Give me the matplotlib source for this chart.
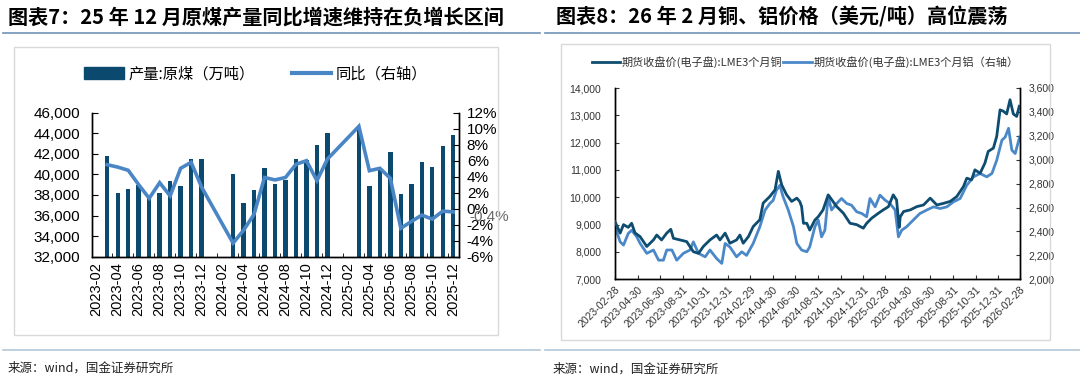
import numpy as np
import pandas as pd
import matplotlib
matplotlib.use("Agg")
import matplotlib.pyplot as plt
import matplotlib.dates as mdates
from matplotlib.lines import Line2D
from matplotlib.patches import Rectangle, Patch

plt.rcParams['font.family'] = ['Liberation Sans', 'Noto Sans CJK SC', 'DejaVu Sans']
plt.rcParams['axes.unicode_minus'] = False

# ---------------- left chart data: raw coal output ----------------
months = pd.period_range('2023-02', '2025-12', freq='M').strftime('%Y-%m').tolist()
coal_output = [None,
               41800, 38200, 38600, 39000, 37800, 38200, 39400, 38900, 41500, 41500,
               None, None,
               40000, 37200, 38500, 40600, 39100, 39500, 41500, 41400, 42900, 44000,
               None, None,
               44400, 38900, 40500, 42200, 38100, 39100, 41200, 40700, 42800, 43800]
coal_yoy = [None,
            5.5, 5.2, 4.8, 3.0, 1.3, 3.25, 1.6, 5.05, 5.8, 2.7,
            None, None,
            -4.3, -2.7, -0.7, 3.9, 3.6, 3.9, 5.55, 6.0, 3.5, 6.2,
            None, None,
            10.3, 4.75, 5.05, 3.8, -2.45, -1.6, -0.8, -1.3, -0.3, -0.4]
last_label = '-0.4%'

# ---------------- right chart data: LME copper / aluminium ----------------
cu_dates = ['2023-02-28', '2023-03-14', '2023-03-23', '2023-04-05', '2023-04-14', '2023-04-23',
            '2023-05-07', '2023-05-25', '2023-06-12', '2023-06-21', '2023-07-04', '2023-07-18',
            '2023-07-29', '2023-08-05', '2023-08-23', '2023-09-10', '2023-09-28', '2023-10-12',
            '2023-10-25', '2023-11-12', '2023-11-30', '2023-12-09', '2023-12-23', '2024-01-05',
            '2024-01-23', '2024-02-01', '2024-02-10', '2024-02-24', '2024-03-08', '2024-03-26',
            '2024-04-04', '2024-04-22', '2024-05-06', '2024-05-15', '2024-05-24', '2024-06-06',
            '2024-06-20', '2024-07-04', '2024-07-12', '2024-07-17', '2024-07-22', '2024-07-31',
            '2024-08-08', '2024-08-22', '2024-08-31', '2024-09-13', '2024-09-27', '2024-10-20',
            '2024-11-07', '2024-11-25', '2024-12-13', '2024-12-31', '2025-01-09', '2025-01-23',
            '2025-02-10', '2025-02-23', '2025-03-09', '2025-03-22', '2025-03-31', '2025-04-07',
            '2025-04-10', '2025-04-19', '2025-05-07', '2025-05-25', '2025-06-12', '2025-06-30',
            '2025-07-18', '2025-08-05', '2025-08-23', '2025-09-10', '2025-09-28', '2025-10-07',
            '2025-10-20', '2025-10-29', '2025-11-12', '2025-11-25', '2025-12-04', '2025-12-18',
            '2025-12-27', '2026-01-05', '2026-01-14', '2026-01-23', '2026-02-01', '2026-02-10',
            '2026-02-19', '2026-02-26']
cu_price = [9110, 8690, 9000, 8900, 9050, 8700,
            8560, 8200, 8440, 8620, 8440, 8690,
            8830, 8500, 8440, 8380, 8010, 7950,
            8200, 8440, 8620, 8440, 8690, 8320,
            8440, 8620, 8320, 8560, 8930, 9180,
            9790, 10030, 10270, 10950, 10460, 10100,
            9850, 9970, 9845, 9660, 9050, 9050,
            8800, 9170, 9290, 9540, 10090, 9660,
            9420, 9050, 9000, 8870, 9050, 9240,
            9420, 9540, 9660, 10090, 9900, 8900,
            9290, 9480, 9540, 9660, 9720, 9970,
            9720, 9780, 9850, 10030, 10395, 10700,
            10640, 11005, 10880, 11250, 11680, 11800,
            12230, 13200, 13150, 13050, 13570, 13050,
            12960, 13330]

al_dates = ['2023-02-28', '2023-03-14', '2023-03-23', '2023-04-05', '2023-04-14', '2023-04-28',
            '2023-05-07', '2023-05-25', '2023-06-12', '2023-06-26', '2023-07-09', '2023-07-18',
            '2023-08-01', '2023-08-14', '2023-09-01', '2023-09-19', '2023-09-28', '2023-10-12',
            '2023-10-30', '2023-11-12', '2023-11-30', '2023-12-14', '2023-12-23', '2024-01-05',
            '2024-01-23', '2024-02-06', '2024-02-19', '2024-03-08', '2024-03-26', '2024-04-09',
            '2024-04-22', '2024-05-01', '2024-05-10', '2024-05-19', '2024-05-28', '2024-06-11',
            '2024-06-25', '2024-07-04', '2024-07-17', '2024-07-31', '2024-08-08', '2024-08-22',
            '2024-08-31', '2024-09-09', '2024-09-18', '2024-09-27', '2024-10-06', '2024-10-20',
            '2024-11-02', '2024-11-16', '2024-11-29', '2024-12-13', '2024-12-27', '2025-01-09',
            '2025-01-18', '2025-02-01', '2025-02-14', '2025-02-28', '2025-03-13', '2025-03-27',
            '2025-04-05', '2025-04-14', '2025-04-27', '2025-05-15', '2025-06-02', '2025-06-21',
            '2025-07-09', '2025-07-27', '2025-08-14', '2025-09-01', '2025-09-19', '2025-10-07',
            '2025-10-25', '2025-11-12', '2025-11-30', '2025-12-14', '2025-12-27', '2026-01-10',
            '2026-01-19', '2026-01-28', '2026-02-06', '2026-02-15', '2026-02-27']
al_price = [2440, 2313, 2286, 2384, 2410, 2355,
            2300, 2217, 2245, 2160, 2160, 2245,
            2245, 2160, 2217, 2245, 2313, 2217,
            2188, 2245, 2174, 2133, 2300, 2270,
            2188, 2230, 2200, 2300, 2440, 2578,
            2634, 2660, 2745, 2786, 2690, 2578,
            2440, 2300, 2245, 2230, 2272, 2440,
            2495, 2355, 2411, 2690, 2580, 2634,
            2676, 2634, 2620, 2565, 2550, 2523,
            2676, 2606, 2704, 2662, 2634, 2580,
            2355, 2411, 2439, 2495, 2550, 2580,
            2606, 2592, 2606, 2648, 2676, 2787,
            2857, 2885, 2857, 2885, 2996, 3163,
            3190, 3263, 3080, 3052, 3190]

price_ticks = ['2023-02-28', '2023-04-30', '2023-06-30', '2023-08-31', '2023-10-31', '2023-12-31',
               '2024-02-29', '2024-04-30', '2024-06-30', '2024-08-31', '2024-10-31', '2024-12-31',
               '2025-02-28', '2025-04-30', '2025-06-30', '2025-08-31', '2025-10-31', '2025-12-31',
               '2026-02-28']

# ---------------- styling ----------------
BAR_C = '#0B4A6E'
LINE_C = '#4A86C6'
CU_C = '#0E4C70'
AL_C = '#4A88C8'
TXT = '#000000'

W, H = 1080, 386
fig = plt.figure(figsize=(W / 100, H / 100), dpi=100)


def fx(px):
    return px / W


def fy(py):
    return 1 - py / H


# titles, rules, frames, sources
for x0, x1 in [(3, 540), (545, 1080)]:
    fig.add_artist(Line2D([fx(x0), fx(x1)], [fy(33), fy(33)], color='#6F93B8', lw=1.2))
    fig.add_artist(Line2D([fx(x0), fx(x1)], [fy(350), fy(350)], color='#B3C7D8', lw=1.2))
fig.add_artist(Rectangle((fx(14), fy(335)), fx(498) - fx(14), fy(47) - fy(335),
                         fill=False, ec='#D9D9D9', lw=1.0, transform=fig.transFigure))
fig.add_artist(Rectangle((fx(561), fy(340)), fx(1050) - fx(561), fy(44) - fy(340),
                         fill=False, ec='#D9D9D9', lw=1.0, transform=fig.transFigure))

fig.text(fx(8), fy(17), '图表7：25 年 12 月原煤产量同比增速维持在负增长区间',
         fontsize=14.5, fontweight='bold', family=['Noto Sans CJK SC', 'DejaVu Sans'],
         va='center', ha='left', color=TXT)
fig.text(fx(556), fy(17), '图表8：26 年 2 月铜、铝价格（美元/吨）高位震荡',
         fontsize=14.5, fontweight='bold', family=['Noto Sans CJK SC', 'DejaVu Sans'],
         va='center', ha='left', color=TXT)
fig.text(fx(8), fy(368), '来源：wind，国金证券研究所', fontsize=9,
         family=['Noto Sans CJK SC', 'DejaVu Sans'], va='center', ha='left', color='#222222')
fig.text(fx(553), fy(369), '来源：wind，国金证券研究所', fontsize=9,
         family=['Noto Sans CJK SC', 'DejaVu Sans'], va='center', ha='left', color='#222222')

# ---------------- left chart ----------------
ax = fig.add_axes([fx(91.5), fy(256.7), fx(458.5) - fx(91.5), fy(112.7) - fy(256.7)])
ax2 = ax.twinx()
idx = np.arange(len(months))
out = np.array([np.nan if v is None else v for v in coal_output], dtype=float)
yoy = np.array([np.nan if v is None else v for v in coal_yoy], dtype=float)
ax.bar(idx, out, width=0.42, color=BAR_C, zorder=2)
ok = ~np.isnan(yoy)
ax2.plot(idx[ok], yoy[ok], color=LINE_C, lw=2.6, solid_joinstyle='miter', zorder=3)

ax.set_xlim(-0.5, len(months) - 0.5)
ax.set_ylim(32000, 46000)
ax.set_yticks(np.arange(32000, 46001, 2000))
ax.set_yticklabels([f'{v:,}' for v in range(32000, 46001, 2000)])
ax2.set_ylim(-6, 12)
ax2.set_yticks(np.arange(-6, 13, 2))
ax2.set_yticklabels([f'{v}%' for v in range(-6, 13, 2)])
ax.set_xticks(idx[::2])
ax.set_xticklabels(months[::2], rotation=90)
ax.set_xticks(idx[::2] - 0.5, minor=True)

for a in (ax, ax2):
    a.spines['top'].set_visible(False)
    for s in ('left', 'right', 'bottom'):
        a.spines[s].set_linewidth(1.0)
        a.spines[s].set_color('#000000')
ax.tick_params(axis='y', labelsize=11, direction='in', length=4, pad=8, colors=TXT)
ax2.tick_params(axis='y', labelsize=11, direction='in', length=4, pad=6, colors=TXT)
ax.tick_params(axis='x', which='major', labelsize=10.5, length=0, pad=4, colors=TXT)
ax.tick_params(axis='x', which='minor', direction='in', length=3)
ax2.annotate(last_label, xy=(idx[-1], yoy[-1]), xytext=(16, -5), textcoords='offset pixels',
             fontsize=11, color='#6A6A6A', va='center', ha='left', annotation_clip=False)

leg_handles = [Patch(color=BAR_C), Line2D([], [], color=LINE_C, lw=3)]
fig.legend(leg_handles, ['产量:原煤（万吨）', '同比（右轴）'], loc='center',
           bbox_to_anchor=(fx(256), fy(74)), ncol=2, frameon=False, fontsize=11,
           handlelength=2.6, handleheight=0.8, handletextpad=0.3, columnspacing=2.4,
           prop={'family': ['Noto Sans CJK SC', 'DejaVu Sans'], 'size': 11})

# ---------------- right chart ----------------
bx = fig.add_axes([fx(615), fy(279.3), fx(1020) - fx(615), fy(88) - fy(279.3)])
bx2 = bx.twinx()
cu_d = pd.to_datetime(cu_dates)
al_d = pd.to_datetime(al_dates)
bx.plot(cu_d, cu_price, color=CU_C, lw=2.0, zorder=3)
bx2.plot(al_d, al_price, color=AL_C, lw=2.0, zorder=2)
bx.set_zorder(bx2.get_zorder() + 1)
bx.patch.set_visible(False)

bx.set_xlim(pd.Timestamp('2023-02-28'), pd.Timestamp('2026-02-28'))
bx.set_ylim(7000, 14000)
bx.set_yticks(np.arange(7000, 14001, 1000))
bx.set_yticklabels([f'{v:,}' for v in range(7000, 14001, 1000)])
bx2.set_ylim(2000, 3600)
bx2.set_yticks(np.arange(2000, 3601, 200))
bx2.set_yticklabels([f'{v:,}' for v in range(2000, 3601, 200)])
tk = pd.to_datetime(price_ticks)
bx.set_xticks(tk)
bx.set_xticklabels(price_ticks, rotation=45, ha='right', rotation_mode='anchor')

for a in (bx, bx2):
    a.spines['top'].set_visible(False)
    for s in ('left', 'right', 'bottom'):
        a.spines[s].set_linewidth(1.0)
        a.spines[s].set_color('#000000')
bx.tick_params(axis='y', labelsize=7.5, direction='in', length=3, pad=10, colors='#333333')
bx2.tick_params(axis='y', labelsize=7.5, direction='in', length=3, pad=6, colors='#333333')
bx.tick_params(axis='x', labelsize=7.5, direction='in', length=3, pad=4, colors='#333333')

leg2 = [Line2D([], [], color=CU_C, lw=2), Line2D([], [], color=AL_C, lw=2)]
fig.legend(leg2, ['期货收盘价(电子盘):LME3个月铜', '期货收盘价(电子盘):LME3个月铝（右轴）'],
           loc='center', bbox_to_anchor=(fx(805), fy(62)), ncol=2, frameon=False,
           handlelength=2.6, handletextpad=0.1, columnspacing=0.1,
           prop={'family': ['Noto Sans CJK SC', 'DejaVu Sans'], 'size': 8}, labelcolor='#333333')

fig.savefig('out.png', dpi=100)
